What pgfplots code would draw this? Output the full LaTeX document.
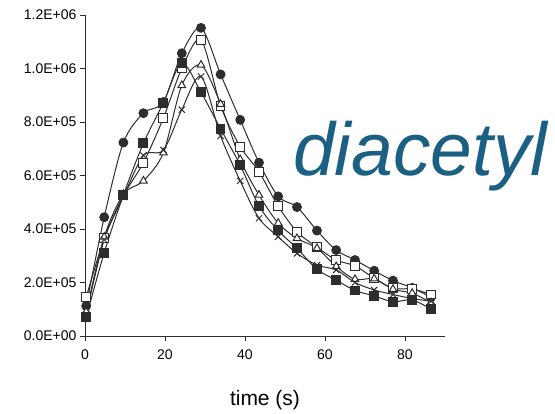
\documentclass[border=0pt]{standalone}
\usepackage{pgfplots}
\pgfplotsset{compat=1.18}
\usepackage{fontspec}
\setmainfont{Liberation Sans}
\definecolor{ln}{RGB}{45,45,45}
\definecolor{title}{RGB}{27,96,130}

\begin{document}
\begin{tikzpicture}
\begin{axis}[
  at={(0,0)}, anchor=south west,
  scale only axis, width=360pt, height=321pt,
  xmin=0, xmax=90, ymin=0, ymax=1200000,
  axis lines*=left, axis line style={line width=0.9pt, ln},
  tick align=outside, major tick length=5pt, tick style={line width=0.9pt, ln},
  xtick={0,20,40,60,80},
  ytick={0,200000,400000,600000,800000,1000000,1200000},
  yticklabels={0.0E+00,2.0E+05,4.0E+05,6.0E+05,8.0E+05,1.0E+06,1.2E+06},
  scaled y ticks=false,
  /pgf/number format/assume math mode=true,
  ticklabel style={font=\fontsize{14}{14}\selectfont},
  xticklabel style={yshift=-5pt},
  xlabel={time (s)}, xlabel style={font=\fontsize{21}{21}\selectfont, yshift=-24pt},
  clip=false,
  every axis plot/.append style={smooth, tension=0.5, line width=1pt, color=ln, mark size=4.4pt},
]
% filled circle
\addplot[mark=*, mark options={fill=ln}] coordinates {
(0.3,112000) (4.8,444000) (9.6,723000) (14.6,833000) (19.6,875000) (24.2,1057000)
(29,1152000) (33.9,978000) (38.8,808000) (43.5,648000) (48.3,522000) (53,482000)
(58,394000) (62.8,321000) (67.5,284000) (72.3,244000) (77,207000) (81.8,180000) (86.5,145000)};
% open square
\addplot[mark=square*, mark options={fill=white}] coordinates {
(0.3,145000) (4.8,365000) (9.6,525000) (14.6,648000) (19.6,815000) (24.2,1000000)
(29,1107000) (33.9,860000) (38.8,708000) (43.5,614000) (48.3,485000) (53,390000)
(58,332000) (62.8,284000) (67.5,262000) (72.3,216000) (77,178000) (81.8,176000) (86.5,155000)};
% open triangle
\addplot[mark=triangle*, mark options={fill=white}] coordinates {
(0.3,90000) (4.8,370000) (9.6,530000) (14.6,580000) (19.6,685000) (24.2,937000)
(29,1013000) (33.9,867000) (38.8,660000) (43.5,527000) (48.3,422000) (53,365000)
(58,328000) (62.8,260000) (67.5,212000) (72.3,214000) (77,175000) (81.8,160000) (86.5,125000)};
% cross
\addplot[mark=x] coordinates {
(0.3,80000) (4.8,360000) (9.6,520000) (14.6,675000) (19.6,695000) (24.2,846000)
(29,970000) (33.9,748000) (38.8,580000) (43.5,440000) (48.3,371000) (53,309000)
(58,265000) (62.8,247000) (67.5,200000) (72.3,172000) (77,155000) (81.8,140000) (86.5,130000)};
% filled square
\addplot[mark=square*, mark options={fill=ln}] coordinates {
(0.3,70000) (4.8,311000) (9.6,527000) (14.6,720000) (19.6,872000) (24.2,1020000)
(29,911000) (33.9,774000) (38.8,639000) (43.5,486000) (48.3,394000) (53,328000)
(58,249000) (62.8,209000) (67.5,170000) (72.3,150000) (77,128000) (81.8,135000) (86.5,100000)};
\node[anchor=base west, font=\fontsize{75}{75}\selectfont\itshape, text=title, inner sep=0pt]
  at (axis cs:52,600000) {diacetyl};
\end{axis}
\useasboundingbox (-85pt,-75pt) rectangle (470pt,336pt);
\end{tikzpicture}
\end{document}
